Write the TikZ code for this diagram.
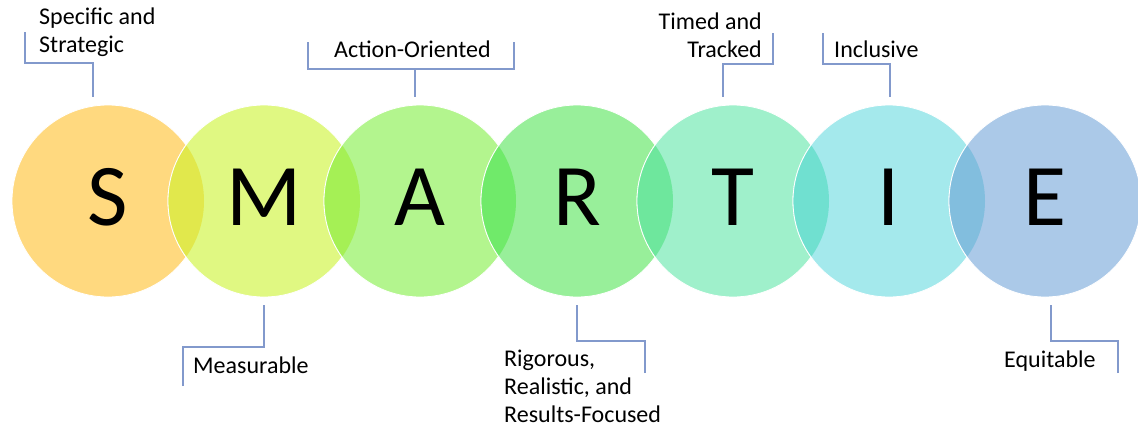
\documentclass[tikz,border=0pt]{standalone}
\usepackage{fontspec}
\setmainfont{Carlito}
\definecolor{cS}{HTML}{FFD97F}
\definecolor{cM}{HTML}{E0F882}
\definecolor{cA}{HTML}{B3F58E}
\definecolor{cR}{HTML}{98EF9A}
\definecolor{cT}{HTML}{9FF0CB}
\definecolor{cI}{HTML}{A4E9EC}
\definecolor{cE}{HTML}{ABC9E8}
\definecolor{ovSM}{HTML}{E1E84C}
\definecolor{ovMA}{HTML}{A5F055}
\definecolor{ovAR}{HTML}{70EA6A}
\definecolor{ovRT}{HTML}{6EE79D}
\definecolor{ovTI}{HTML}{70E0D0}
\definecolor{ovIE}{HTML}{82BEDE}
\definecolor{calloutblue}{HTML}{8299CC}
\tikzset{
	disc/.style={circle, minimum size=192pt, inner sep=0pt, draw=white, line width=0.8pt},
	letter/.style={font=\fontsize{88}{88}\selectfont, inner sep=0pt},
	lbl/.style={font=\fontsize{24}{28}\selectfont, inner sep=0pt},
	callout/.style={draw=calloutblue, line width=1.3pt}
}
\begin{document}
\begin{tikzpicture}[x=1pt,y=-1pt]
	\useasboundingbox (0,0) rectangle (1138,429);
	% discs, each one laid over the one before
	\node (dS) at ( 108, 201)	[disc, fill = cS]	{};
	\node (dM) at ( 264, 201)	[disc, fill = cM]	{};
	\begin{scope}\clip (dS.center) circle (96pt); \fill[ovSM, draw=white, line width=0.8pt] (dM.center) circle (96pt);\end{scope}
	\node (dA) at ( 420, 201)	[disc, fill = cA]	{};
	\begin{scope}\clip (dM.center) circle (96pt); \fill[ovMA, draw=white, line width=0.8pt] (dA.center) circle (96pt);\end{scope}
	\node (dR) at ( 577, 201)	[disc, fill = cR]	{};
	\begin{scope}\clip (dA.center) circle (96pt); \fill[ovAR, draw=white, line width=0.8pt] (dR.center) circle (96pt);\end{scope}
	\node (dT) at ( 733, 201)	[disc, fill = cT]	{};
	\begin{scope}\clip (dR.center) circle (96pt); \fill[ovRT, draw=white, line width=0.8pt] (dT.center) circle (96pt);\end{scope}
	\node (dI) at ( 889, 201)	[disc, fill = cI]	{};
	\begin{scope}\clip (dT.center) circle (96pt); \fill[ovTI, draw=white, line width=0.8pt] (dI.center) circle (96pt);\end{scope}
	\node (dE) at (1045, 201)	[disc, fill = cE]	{};
	\begin{scope}\clip (dI.center) circle (96pt); \fill[ovIE, draw=white, line width=0.8pt] (dE.center) circle (96pt);\end{scope}
	% letters
	\node (S) at ( 108, 197)	[letter]	{S};
	\node (M) at ( 264, 197)	[letter]	{M};
	\node (A) at ( 420, 197)	[letter]	{A};
	\node (R) at ( 577, 197)	[letter]	{R};
	\node (T) at ( 733, 197)	[letter]	{T};
	\node (I) at ( 889, 197)	[letter]	{I};
	\node (E) at (1045, 197)	[letter]	{E};
	% labels (base = last line)
	\node (spec)  at (  39,  52)	[lbl, anchor=base west, align=left]	{Specific and\\Strategic};
	\node (act)   at ( 334,  57)	[lbl, anchor=base west]	{Action-Oriented};
	\node (timed) at ( 762,  57)	[lbl, anchor=base east, align=right]	{Timed and\\Tracked};
	\node (incl)  at ( 834,  57)	[lbl, anchor=base west]	{Inclusive};
	\node (meas)  at ( 193, 373)	[lbl, anchor=base west]	{Measurable};
	\node (rig)   at ( 504, 422)	[lbl, anchor=base west, align=left]	{Rigorous,\\Realistic, and\\Results-Focused};
	\node (equi)  at (1004, 367)	[lbl, anchor=base west]	{Equitable};
	% callouts
	\coordinate (s1) at (  25,  32);	\coordinate (s2) at (  93,  63);
	\coordinate (a1) at ( 308,  42);	\coordinate (a2) at ( 514,  42);	\coordinate (a3) at ( 415,  69);
	\coordinate (t1) at ( 773,  33);	\coordinate (t2) at ( 723,  64);
	\coordinate (i1) at ( 823,  33);	\coordinate (i2) at ( 890,  64);
	\coordinate (m1) at ( 183, 386);	\coordinate (m2) at ( 264, 347);
	\coordinate (r1) at ( 645, 373);	\coordinate (r2) at ( 577, 341);
	\coordinate (e1) at (1118, 373);	\coordinate (e2) at (1051, 341);
	\draw[callout, shorten >=8pt] (s1) |- (s2) -- (s2 |- dS.north);
	\draw[callout] (a1) |- (a3) -| (a2);
	\draw[callout, shorten >=8pt] (a3) -- (a3 |- dA.north);
	\draw[callout, shorten >=8pt] (t1) |- (t2) -- (t2 |- dT.north);
	\draw[callout, shorten >=8pt] (i1) |- (i2) -- (i2 |- dI.north);
	\draw[callout, shorten >=8pt] (m1) |- (m2) -- (m2 |- dM.south);
	\draw[callout, shorten >=8pt] (r1) |- (r2) -- (r2 |- dR.south);
	\draw[callout, shorten >=8pt] (e1) |- (e2) -- (e2 |- dE.south);
\end{tikzpicture}
\end{document}
